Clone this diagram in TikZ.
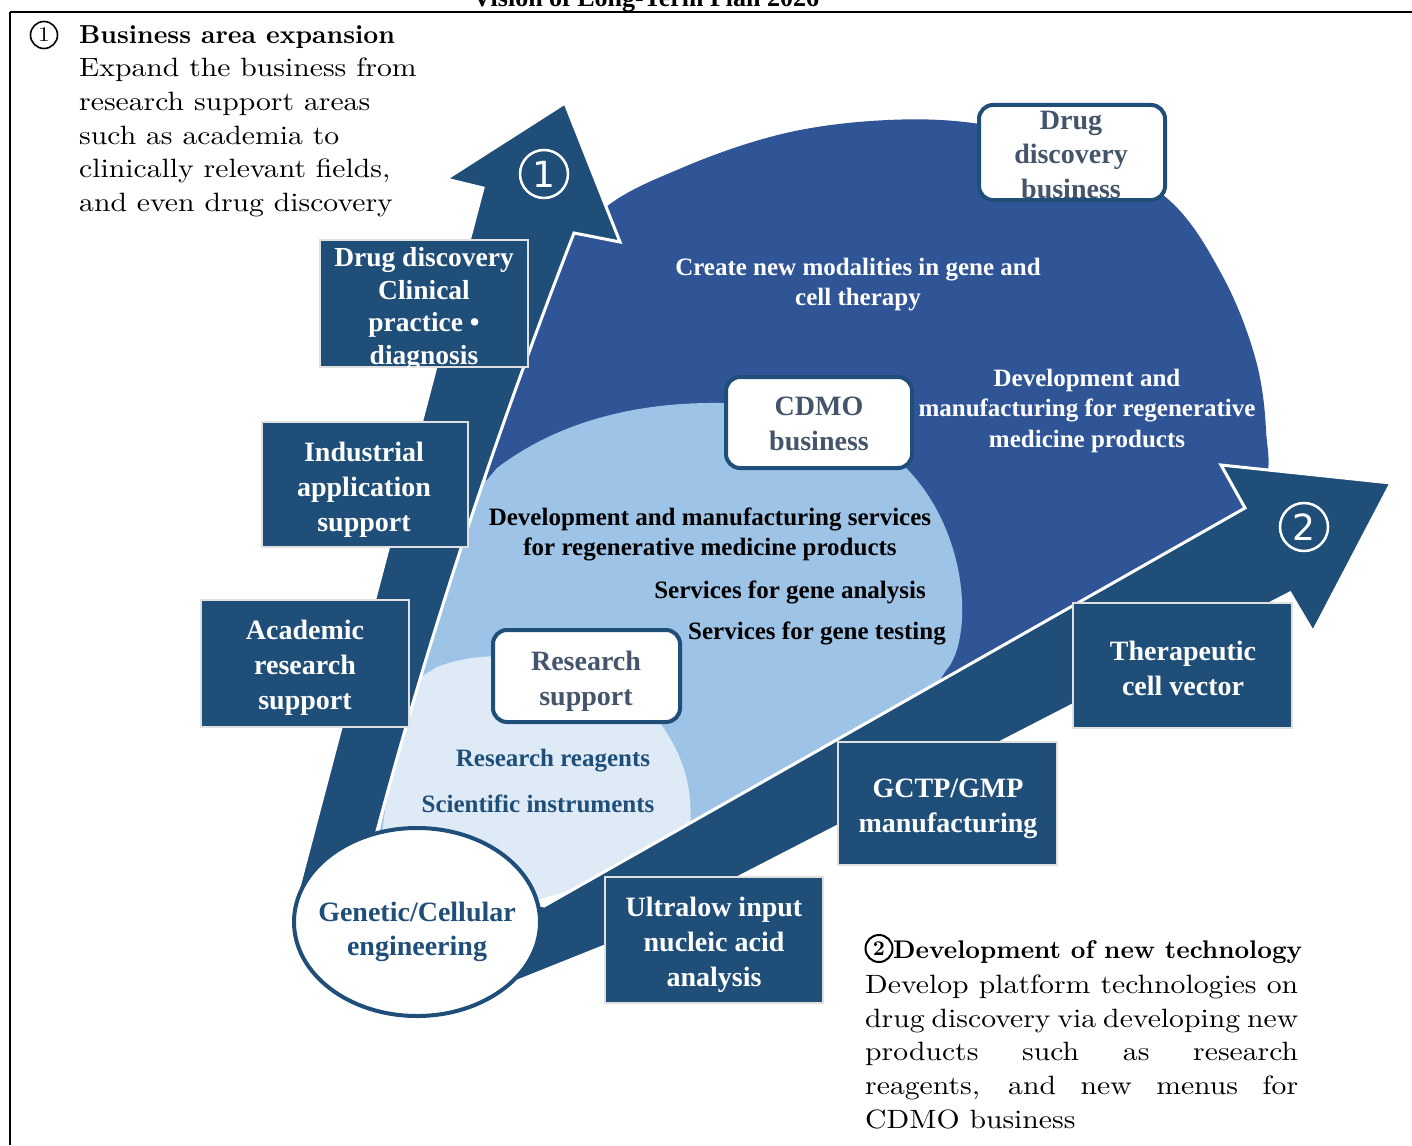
\documentclass[tikz,border=0pt]{standalone}
\usepackage{fontspec}
\usetikzlibrary{shapes.geometric}
\newfontfamily\diagfont{Liberation Serif}
\newfontfamily\bodyfont[Extension=.otf,FakeStretch=1.12]{lmroman10-regular}
\newfontfamily\headfont[Extension=.otf]{lmroman10-bold}
\newfontfamily\symfont{DejaVu Sans}
\definecolor{navy}{HTML}{1F4E79}
\definecolor{royal}{HTML}{2F5597}
\definecolor{midblue}{HTML}{9DC3E6}
\definecolor{paleblue}{HTML}{DEEBF7}
\definecolor{slatetext}{HTML}{44546A}
\tikzset{
  navybox/.style={draw=white!88!black, line width=1.3pt, fill=navy, inner sep=0pt},
  roundbox/.style={draw=navy, line width=4pt, fill=white, rounded corners=14pt, inner sep=0pt},
  boxlabel/.style={text=white, font=\diagfont\bfseries\fontsize{28}{35}\selectfont, align=center, inner sep=0pt},
  greylabel/.style={boxlabel, text=slatetext},
  bloblabel/.style={font=\diagfont\bfseries\fontsize{25}{30.5}\selectfont, align=center, inner sep=0pt},
  numring/.style={circle, draw=white, line width=2.5pt, minimum size=48pt, inner sep=0pt, text=white, font=\symfont\fontsize{36}{36}\selectfont},
  headring/.style={circle, draw=black, line width=1.6pt, minimum size=27pt, inner sep=0pt, font=\bodyfont\fontsize{21}{21}\selectfont},
  bodyline/.style={anchor=base west, inner sep=0pt, font=\bodyfont\fontsize{26.5}{26.5}\selectfont},
  headline/.style={anchor=base west, inner sep=0pt, font=\headfont\fontsize{26}{26}\selectfont},
}
\begin{document}
\begin{tikzpicture}[x=1pt,y=-1pt]
\useasboundingbox (0,0) rectangle (1412,1145);

% page frame and the clipped heading above it
\node[anchor=base, inner sep=0pt, font=\diagfont\bfseries\fontsize{26}{26}\selectfont] (title) at (646,6.5) {Vision of Long-Term Plan 2026};
\draw[line width=2.5pt] (10,12) -- (1412,12);
\draw[line width=2pt] (10,12) -- (10,1145);

% business areas, from outer to inner
\fill[royal] plot[smooth cycle, tension=0.6] coordinates {
  (545,290) (600,212) (684,167) (786,133) (888,120) (980,124) (1080,148)
  (1169,200) (1222,275) (1255,357) (1266,430) (1262,490) (1200,570)
  (900,730) (560,880) (470,600)};
\fill[midblue] (440,560) -- (470,500) -- (497,468)
  .. controls (560,420) and (640,402) .. (720,403)
  .. controls (800,405) and (870,440) .. (903,465)
  .. controls (940,500) and (965,560) .. (962,620)
  .. controls (960,645) and (955,660) .. (945,672)
  -- (915,720) -- (700,850) -- (500,890) -- (380,830) -- cycle;
\fill[paleblue] (400,690) -- (437,667)
  .. controls (520,635) and (630,680) .. (663,727)
  .. controls (685,760) and (693,790) .. (690,830)
  -- (640,870) -- (520,905) -- (380,850) -- cycle;

% the two growth arrows joined at the engineering core
\fill[navy, draw=white, line width=3pt, line join=miter]
  (1290,593) -- (1313,632) -- (1391,483) -- (1221,465) -- (1245,508)
  -- (544,906) -- (440,880) -- (372,850)
  .. controls (426,644) and (494,439) .. (574,233)
  -- (620,242) -- (565,103) -- (446,179) -- (483,188)
  -- (293,910) -- (310,965) -- (420,1005) -- (470,1000) -- (605,946) -- cycle;

\node[numring] (n1) at (544,174) {1};
\node[numring] (n2) at (1304,527) {2};

% steps along the arrows
\node[navybox, minimum width=208pt, minimum height=127pt] (clin) at (424,303.5) {};
\node[boxlabel, font=\diagfont\bfseries\fontsize{27.5}{32.8}\selectfont] (clinT) at (424,309) {Drug discovery\\Clinical\\practice \textbullet\\diagnosis};
\node[navybox, minimum width=206pt, minimum height=125pt] (indu) at (365,484.5) {};
\node[boxlabel] (induT) at (364,490) {Industrial\\application\\support};
\node[navybox, minimum width=208pt, minimum height=127pt] (acad) at (305,663.5) {};
\node[boxlabel] (acadT) at (305,668) {Academic\\research\\support};
\node[navybox, minimum width=219pt, minimum height=125pt] (vect) at (1182.5,665.5) {};
\node[boxlabel] (vectT) at (1183,668.5) {Therapeutic\\cell vector};
\node[navybox, minimum width=219pt, minimum height=123pt] (gctp) at (947.5,803.5) {};
\node[boxlabel] (gctpT) at (948,808.5) {GCTP/GMP\\manufacturing};
\node[navybox, minimum width=218pt, minimum height=126pt] (ultra) at (714,940) {};
\node[boxlabel] (ultraT) at (714,945) {Ultralow input\\nucleic acid\\analysis};

% business labels
\node[roundbox, minimum width=186pt, minimum height=95pt] (drugbiz) at (1072,152.5) {};
\node[greylabel, font=\diagfont\bfseries\fontsize{28}{34.5}\selectfont] (drugbizT) at (1071,155) {Drug\\discovery\\business};
\node[roundbox, minimum width=186pt, minimum height=91pt] (cdmo) at (819,422.5) {};
\node[greylabel] (cdmoT) at (819,424) {CDMO\\business};
\node[roundbox, minimum width=187pt, minimum height=92pt] (research) at (586.5,676) {};
\node[greylabel] (researchT) at (586,681) {Research\\support};

% engineering core
\node[ellipse, draw=navy, line width=4pt, fill=white, minimum width=246pt, minimum height=188pt, inner sep=0pt] (core) at (417,922) {};
\node[boxlabel, text=navy, font=\diagfont\bfseries\fontsize{28}{34}\selectfont] (coreT) at (417,932) {Genetic/Cellular\\engineering};

% offerings inside each area
\node[bloblabel, text=white] (modal) at (858,284.5) {Create new modalities in gene and\\cell therapy};
\node[bloblabel, text=white] (regen) at (1087,410.5) {Development and\\manufacturing for regenerative\\medicine products};
\node[bloblabel, text=black] (devsvc) at (710,534.5) {Development and manufacturing services\\for regenerative medicine products};
\node[bloblabel, text=black] (anal) at (790,592) {Services for gene analysis};
\node[bloblabel, text=black] (test) at (817,633) {Services for gene testing};
\node[bloblabel, text=navy] (reag) at (553,761) {Research reagents};
\node[bloblabel, text=navy] (instr) at (538,804) {Scientific instruments};

% explanatory notes
\node[headring] (h1num) at (44,35) {1};
\node[headline] (h1) at (79,44) {Business area expansion};
\node[bodyline] (p1a) at (79,77) {Expand the business from};
\node[bodyline] (p1b) at (79,110.5) {research support areas};
\node[bodyline] (p1c) at (79,144) {such as academia to};
\node[bodyline] (p1d) at (79,177.5) {clinically relevant fields,};
\node[bodyline] (p1e) at (79,211) {and even drug discovery};

\node[headring, line width=2pt, font=\headfont\fontsize{21}{21}\selectfont] (h2num) at (879,948.5) {2};
\node[headline, font=\headfont\fontsize{25.5}{25.5}\selectfont] (h2) at (893,958) {Development of new technology};
\node[bodyline] (p2a) at (865,993) {\makebox[433pt][s]{Develop platform technologies on}};
\node[bodyline] (p2b) at (865,1027) {\makebox[433pt][s]{drug discovery via developing new}};
\node[bodyline] (p2c) at (865,1060.5) {\makebox[433pt][s]{products such as research}};
\node[bodyline] (p2d) at (865,1094) {\makebox[433pt][s]{reagents, and new menus for}};
\node[bodyline] (p2e) at (865,1128) {CDMO business};
\end{tikzpicture}
\end{document}
